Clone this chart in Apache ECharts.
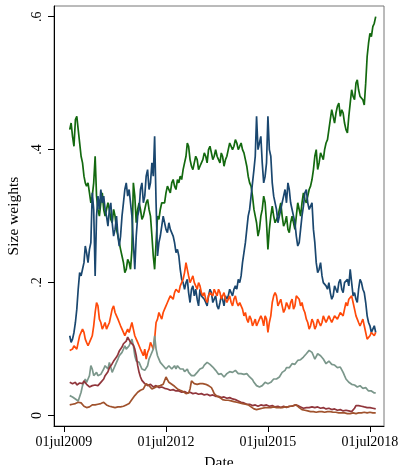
<!DOCTYPE html>
<html>
<head>
<meta charset="utf-8">
<script src="https://cdn.jsdelivr.net/npm/echarts@6/dist/echarts.min.js"></script>
<style>html,body{margin:0;padding:0;background:#fff;}#c{width:404px;height:465px;}</style>
</head>
<body>
<div id="c"></div>
<script>
// Monthly sample dates (1st of month); "Mid" arrays hold the reading half-way between consecutive months
var months = [
'2009-09','2009-10','2009-11','2009-12',
'2010-01','2010-02','2010-03','2010-04','2010-05','2010-06','2010-07','2010-08','2010-09','2010-10','2010-11','2010-12',
'2011-01','2011-02','2011-03','2011-04','2011-05','2011-06','2011-07','2011-08','2011-09','2011-10','2011-11','2011-12',
'2012-01','2012-02','2012-03','2012-04','2012-05','2012-06','2012-07','2012-08','2012-09','2012-10','2012-11','2012-12',
'2013-01','2013-02','2013-03','2013-04','2013-05','2013-06','2013-07','2013-08','2013-09','2013-10','2013-11','2013-12',
'2014-01','2014-02','2014-03','2014-04','2014-05','2014-06','2014-07','2014-08','2014-09','2014-10','2014-11','2014-12',
'2015-01','2015-02','2015-03','2015-04','2015-05','2015-06','2015-07','2015-08','2015-09','2015-10','2015-11','2015-12',
'2016-01','2016-02','2016-03','2016-04','2016-05','2016-06','2016-07','2016-08','2016-09','2016-10','2016-11','2016-12',
'2017-01','2017-02','2017-03','2017-04','2017-05','2017-06','2017-07','2017-08','2017-09','2017-10','2017-11','2017-12',
'2018-01','2018-02','2018-03','2018-04','2018-05','2018-06','2018-07','2018-08','2018-09'
];

var green = [
0.43,0.42,0.445,0.43,
0.39,0.36,0.345,0.335,0.33,0.39,0.31,0.32,0.31,0.30,0.31,0.29,
0.30,0.27,0.25,0.23,0.22,0.23,0.25,0.33,0.31,0.31,0.30,0.32,
0.31,0.27,0.22,0.30,0.31,0.32,0.335,0.345,0.35,0.345,0.355,0.36,
0.37,0.39,0.405,0.375,0.38,0.385,0.375,0.385,0.39,0.40,0.395,0.39,
0.39,0.38,0.39,0.385,0.40,0.41,0.405,0.41,0.405,0.40,0.385,0.36,
0.345,0.31,0.29,0.28,0.31,0.32,0.25,0.30,0.30,0.29,0.31,0.30,
0.29,0.28,0.29,0.29,0.30,0.31,0.32,0.325,0.33,0.345,0.37,0.40,
0.38,0.39,0.40,0.415,0.445,0.45,0.455,0.47,0.46,0.44,0.425,0.47,
0.48,0.50,0.49,0.48,0.467,0.54,0.575,0.585,0.60
];
var greenMid = [
0.44,0.405,0.45,0.41,0.38,0.35,0.35,0.32,0.35,0.33,0.30,0.335,0.30,0.32,0.295,0.31,
0.28,0.26,0.24,0.215,0.235,0.22,0.35,0.29,0.32,0.295,0.31,0.325,0.30,0.24,0.26,0.295,
0.32,0.32,0.345,0.335,0.355,0.34,0.35,0.355,0.38,0.41,0.385,0.37,0.39,0.37,0.38,0.395,
0.38,0.405,0.385,0.40,0.385,0.395,0.375,0.39,0.41,0.40,0.415,0.40,0.41,0.395,0.375,0.35,
0.33,0.30,0.27,0.30,0.33,0.29,0.28,0.315,0.29,0.30,0.32,0.285,0.30,0.275,0.30,0.28,
0.32,0.30,0.335,0.32,0.34,0.355,0.39,0.37,0.395,0.385,0.41,0.43,0.46,0.44,0.465,0.45,
0.455,0.43,0.45,0.49,0.475,0.505,0.48,0.475,0.50,0.56,0.57,0.59
];

var navy = [
0.12,0.115,0.14,0.19,
0.21,0.23,0.245,0.25,0.335,0.21,0.33,0.34,0.33,0.30,0.31,0.29,
0.28,0.27,0.27,0.32,0.35,0.34,0.30,0.22,0.30,0.34,0.32,0.36,
0.34,0.38,0.42,0.24,0.27,0.30,0.28,0.29,0.28,0.26,0.25,0.22,
0.20,0.20,0.185,0.19,0.18,0.175,0.19,0.18,0.17,0.18,0.185,0.175,
0.165,0.17,0.175,0.18,0.18,0.185,0.19,0.19,0.20,0.23,0.26,0.30,
0.33,0.37,0.45,0.41,0.38,0.36,0.45,0.39,0.33,0.31,0.30,0.32,
0.34,0.35,0.32,0.30,0.27,0.26,0.30,0.335,0.32,0.31,0.28,0.23,
0.22,0.21,0.20,0.19,0.185,0.18,0.19,0.20,0.19,0.20,0.205,0.22,
0.18,0.175,0.19,0.20,0.185,0.15,0.135,0.13,0.125
];
var navyMid = [
0.11,0.125,0.16,0.215,0.22,0.255,0.23,0.26,0.31,0.30,0.31,0.32,0.31,0.285,0.32,0.27,
0.30,0.255,0.30,0.34,0.33,0.32,0.26,0.27,0.31,0.35,0.33,0.37,0.35,0.36,0.32,0.26,
0.285,0.29,0.275,0.28,0.27,0.245,0.24,0.205,0.19,0.205,0.17,0.195,0.19,0.165,0.18,0.175,
0.165,0.19,0.17,0.18,0.16,0.18,0.165,0.175,0.19,0.18,0.195,0.205,0.21,0.245,0.28,0.31,
0.35,0.39,0.40,0.42,0.35,0.38,0.40,0.35,0.32,0.29,0.31,0.33,0.32,0.34,0.31,0.29,
0.255,0.28,0.315,0.34,0.31,0.32,0.26,0.215,0.23,0.20,0.195,0.20,0.175,0.195,0.185,0.205,
0.185,0.20,0.195,0.20,0.185,0.17,0.205,0.19,0.17,0.14,0.125,0.135
];

var orange = [
0.098,0.10,0.105,0.11,
0.125,0.125,0.11,0.11,0.12,0.155,0.165,0.14,0.135,0.13,0.14,0.16,
0.155,0.145,0.135,0.125,0.125,0.125,0.14,0.12,0.11,0.10,0.09,0.085,
0.10,0.105,0.115,0.145,0.15,0.155,0.165,0.175,0.18,0.185,0.19,0.195,
0.205,0.23,0.21,0.205,0.20,0.19,0.195,0.18,0.175,0.18,0.185,0.19,
0.18,0.185,0.18,0.175,0.175,0.17,0.175,0.17,0.17,0.16,0.155,0.14,
0.145,0.14,0.135,0.14,0.145,0.15,0.125,0.15,0.18,0.18,0.17,0.165,
0.16,0.165,0.17,0.16,0.18,0.175,0.17,0.155,0.14,0.135,0.14,0.135,
0.14,0.14,0.145,0.145,0.145,0.145,0.15,0.15,0.155,0.16,0.165,0.175,
0.17,0.15,0.14,0.14,0.135,0.115,0.12,0.125,0.125
];
var orangeMid = [
0.095,0.105,0.10,0.12,0.13,0.115,0.105,0.115,0.135,0.17,0.145,0.13,0.14,0.13,0.15,0.165,
0.15,0.14,0.13,0.12,0.13,0.125,0.13,0.115,0.105,0.095,0.10,0.095,0.11,0.10,0.14,0.155,
0.145,0.16,0.17,0.18,0.175,0.19,0.185,0.20,0.215,0.22,0.20,0.21,0.195,0.20,0.185,0.185,
0.17,0.185,0.18,0.185,0.19,0.175,0.185,0.17,0.18,0.165,0.18,0.165,0.165,0.15,0.145,0.15,
0.135,0.145,0.14,0.15,0.135,0.145,0.14,0.17,0.185,0.165,0.175,0.155,0.17,0.16,0.175,0.165,
0.18,0.165,0.16,0.145,0.13,0.145,0.13,0.145,0.135,0.15,0.14,0.15,0.14,0.15,0.145,0.155,
0.15,0.17,0.175,0.18,0.16,0.145,0.135,0.145,0.125,0.115,0.125,0.12
];

var grey = [
0.030,0.028,0.025,0.022,
0.035,0.05,0.05,0.06,0.07,0.058,0.06,0.062,0.07,0.075,0.08,0.065,
0.075,0.085,0.09,0.10,0.10,0.105,0.115,0.09,0.085,0.075,0.07,0.065,
0.085,0.09,0.12,0.09,0.08,0.075,0.07,0.075,0.07,0.075,0.075,0.07,
0.07,0.068,0.065,0.06,0.06,0.065,0.07,0.072,0.078,0.08,0.075,0.072,
0.065,0.065,0.06,0.06,0.065,0.068,0.065,0.065,0.062,0.06,0.065,0.06,
0.056,0.05,0.045,0.043,0.045,0.05,0.048,0.05,0.055,0.055,0.058,0.065,
0.068,0.07,0.075,0.076,0.08,0.082,0.086,0.09,0.095,0.10,0.09,0.088,
0.095,0.088,0.082,0.08,0.08,0.078,0.075,0.075,0.07,0.06,0.052,0.05,
0.048,0.045,0.046,0.044,0.042,0.04,0.038,0.035,0.034
];
var greyMid = [
0.028,0.027,0.024,0.025,0.045,0.055,0.055,0.075,0.06,0.065,0.058,0.066,0.075,0.07,0.078,0.07,
0.08,0.09,0.095,0.105,0.098,0.11,0.105,0.082,0.08,0.07,0.068,0.075,0.09,0.10,0.10,0.085,
0.078,0.072,0.068,0.072,0.073,0.07,0.073,0.072,0.066,0.07,0.062,0.063,0.058,0.068,0.068,0.076,
0.08,0.077,0.073,0.068,0.062,0.063,0.058,0.063,0.066,0.065,0.068,0.063,0.063,0.062,0.063,0.058,
0.054,0.048,0.043,0.046,0.042,0.05,0.046,0.053,0.052,0.058,0.061,0.066,0.072,0.072,0.078,0.077,
0.083,0.084,0.088,0.093,0.098,0.095,0.085,0.093,0.09,0.085,0.078,0.082,0.077,0.076,0.072,0.073,
0.065,0.055,0.05,0.047,0.046,0.043,0.045,0.041,0.042,0.037,0.037,0.034
];

var maroon = [
0.05,0.048,0.05,0.047,
0.05,0.052,0.047,0.043,0.045,0.046,0.045,0.05,0.055,0.062,0.072,0.078,
0.085,0.092,0.10,0.108,0.112,0.115,0.108,0.10,0.075,0.058,0.05,0.046,
0.044,0.045,0.042,0.043,0.041,0.042,0.04,0.039,0.038,0.038,0.037,0.036,
0.036,0.035,0.035,0.034,0.033,0.033,0.032,0.032,0.031,0.031,0.03,0.03,
0.029,0.028,0.028,0.027,0.027,0.026,0.025,0.023,0.021,0.019,0.018,0.017,
0.016,0.016,0.015,0.015,0.016,0.015,0.016,0.015,0.014,0.014,0.013,0.013,
0.013,0.013,0.014,0.015,0.016,0.014,0.012,0.011,0.012,0.013,0.013,0.012,
0.012,0.011,0.011,0.01,0.01,0.009,0.009,0.008,0.008,0.007,0.007,0.007,
0.007,0.015,0.015,0.014,0.013,0.012,0.012,0.011,0.01
];
var maroonMid = [
0.047,0.05,0.046,0.049,0.048,0.05,0.045,0.046,0.043,0.048,0.046,0.052,0.06,0.066,0.075,0.082,
0.088,0.097,0.103,0.11,0.118,0.11,0.106,0.09,0.065,0.053,0.048,0.045,0.047,0.043,0.045,0.042,
0.043,0.041,0.04,0.038,0.039,0.037,0.037,0.035,0.036,0.034,0.035,0.033,0.034,0.032,0.033,0.031,
0.032,0.03,0.031,0.029,0.029,0.027,0.028,0.026,0.027,0.025,0.024,0.022,0.02,0.019,0.017,0.017,
0.015,0.016,0.014,0.016,0.015,0.016,0.014,0.015,0.013,0.014,0.012,0.014,0.012,0.014,0.014,0.016,
0.015,0.013,0.011,0.012,0.012,0.013,0.012,0.013,0.011,0.012,0.01,0.011,0.009,0.01,0.008,0.009,
0.007,0.008,0.007,0.006,0.011,0.014,0.015,0.013,0.013,0.011,0.012,0.01
];

var brown = [
0.016,0.017,0.018,0.02,
0.019,0.014,0.012,0.013,0.016,0.016,0.017,0.018,0.02,0.016,0.014,0.013,
0.012,0.013,0.013,0.014,0.016,0.018,0.024,0.03,0.035,0.038,0.04,0.048,
0.045,0.04,0.042,0.044,0.045,0.047,0.058,0.05,0.047,0.044,0.04,0.038,
0.036,0.033,0.034,0.052,0.048,0.047,0.048,0.048,0.047,0.045,0.042,0.033,
0.029,0.027,0.024,0.023,0.023,0.022,0.021,0.02,0.019,0.018,0.017,0.016,
0.013,0.01,0.009,0.01,0.011,0.012,0.012,0.012,0.013,0.012,0.012,0.012,
0.013,0.013,0.014,0.015,0.016,0.012,0.009,0.008,0.007,0.006,0.006,0.005,
0.006,0.006,0.005,0.006,0.006,0.005,0.005,0.004,0.004,0.004,0.003,0.003,
0.004,0.003,0.004,0.004,0.005,0.004,0.005,0.004,0.004
];
var brownMid = [
0.015,0.019,0.017,0.021,0.016,0.012,0.013,0.015,0.017,0.015,0.018,0.017,0.019,0.015,0.013,0.012,
0.013,0.012,0.014,0.014,0.017,0.02,0.027,0.033,0.036,0.04,0.043,0.05,0.042,0.043,0.04,0.046,
0.043,0.05,0.055,0.047,0.046,0.042,0.039,0.037,0.035,0.032,0.04,0.05,0.046,0.048,0.047,0.049,
0.046,0.044,0.038,0.03,0.028,0.025,0.024,0.022,0.023,0.021,0.02,0.02,0.018,0.018,0.016,0.015,
0.011,0.008,0.01,0.011,0.012,0.011,0.013,0.012,0.012,0.013,0.011,0.013,0.012,0.014,0.014,0.016,
0.014,0.01,0.008,0.007,0.007,0.005,0.006,0.006,0.005,0.006,0.005,0.005,0.006,0.004,0.005,0.004,
0.004,0.003,0.004,0.003,0.003,0.004,0.003,0.005,0.004,0.005,0.004,0.005
];

var xTickDates = ['2009-07-01','2012-07-01','2015-07-01','2018-07-01'];
var xTickLabels = ['01jul2009','01jul2012','01jul2015','01jul2018'];
var yTickValues = [0, 0.2, 0.4, 0.6];
var yTickLabels = ['0', '.2', '.4', '.6'];

function ts(s) { var p = s.split('-'); return Date.UTC(+p[0], +p[1]-1, p[2] ? +p[2] : 1); }
var xTickTs = xTickDates.map(ts);
var monthTs = months.map(function (m) { return ts(m); });

// interleave month readings with the half-way readings
function pairs(arr, mid) {
  var out = [];
  for (var i = 0; i < monthTs.length; i++) {
    out.push([monthTs[i], arr[i]]);
    if (i < monthTs.length - 1) out.push([(monthTs[i] + monthTs[i + 1]) / 2, mid[i]]);
  }
  return out;
}

var FONT = '"Liberation Serif", "Times New Roman", serif';
var chart = echarts.init(document.getElementById('c'), null, {renderer: 'canvas'});

function mk(name, arr, mid, color) {
  return {
    name: name, type: 'line', data: pairs(arr, mid), showSymbol: false, symbol: 'none',
    lineStyle: {color: color, width: 1.7}, itemStyle: {color: color},
    animation: false, silent: true
  };
}

chart.setOption({
  animation: false,
  backgroundColor: '#fff',
  grid: {left: 54, right: 20, top: 6, bottom: 39, show: true, borderColor: '#777', borderWidth: 1,
         backgroundColor: 'transparent', containLabel: false, outerBoundsMode: 'none'},
  xAxis: {
    type: 'value',
    min: ts('2009-03-16'), max: ts('2018-11-29'),
    name: 'Date', nameLocation: 'middle', nameGap: 29,
    nameTextStyle: {fontFamily: FONT, fontSize: 15.5, color: '#000'},
    axisLine: {onZero: false, lineStyle: {color: '#000', width: 1}},
    axisTick: {show: true, length: 6, customValues: xTickTs, lineStyle: {color: '#000'}},
    axisLabel: {
      customValues: xTickTs, margin: 9, fontFamily: FONT, fontSize: 14, color: '#000',
      formatter: function (v) { var k = xTickTs.indexOf(v); return k >= 0 ? xTickLabels[k] : ''; }
    },
    splitLine: {show: false}
  },
  yAxis: {
    type: 'value', min: -0.0157, max: 0.616,
    name: 'Size weights', nameLocation: 'middle', nameGap: 28,
    nameTextStyle: {fontFamily: FONT, fontSize: 15.5, color: '#000'},
    axisLine: {show: true, onZero: false, lineStyle: {color: '#000', width: 1}},
    axisTick: {show: true, length: 6, customValues: yTickValues, lineStyle: {color: '#000'}},
    axisLabel: {
      customValues: yTickValues, rotate: 90, margin: 10, fontFamily: FONT, fontSize: 14, color: '#000',
      formatter: function (v) {
        for (var k = 0; k < yTickValues.length; k++) { if (Math.abs(yTickValues[k] - v) < 1e-9) return yTickLabels[k]; }
        return '';
      }
    },
    splitLine: {show: false}
  },
  series: [
    mk('Green', green, greenMid, '#13690f'),
    mk('Navy', navy, navyMid, '#1a476f'),
    mk('Orange', orange, orangeMid, '#ff4a0a'),
    mk('Grey', grey, greyMid, '#7b978b'),
    mk('Maroon', maroon, maroonMid, '#90353b'),
    mk('Brown', brown, brownMid, '#a0522d')
  ]
});
</script>
</body>
</html>
